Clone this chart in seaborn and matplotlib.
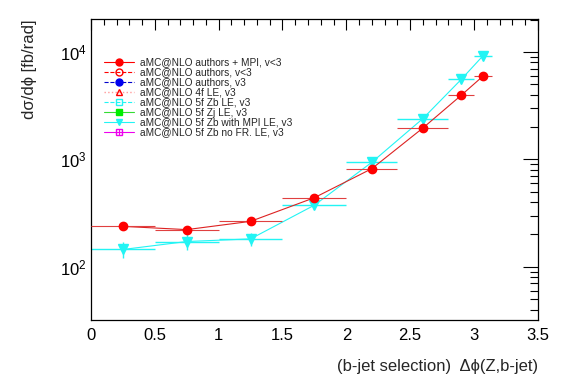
import numpy as np
import pandas as pd
import matplotlib
matplotlib.use("Agg")
import matplotlib.pyplot as plt
import seaborn as sns
from matplotlib.lines import Line2D
from matplotlib.ticker import LogLocator, MultipleLocator, NullFormatter

# ---- data ----
x_centers = [0.25, 0.75, 1.25, 1.75, 2.2, 2.6, 2.9, 3.07]
x_halfwidth = [0.25, 0.25, 0.25, 0.25, 0.2, 0.2, 0.1, 0.07]

mpi_v3_lt = [238, 222, 265, 440, 820, 1960, 3950, 5950]
mpi_v3_lt_err = [5, 5, 6, 9, 16, 35, 70, 100]

zb_mpi_v3 = [145, 172, 182, 375, 940, 2400, 5550, 9200]
zb_mpi_v3_err = [25, 28, 26, 30, 40, 80, 150, 250]

legend_labels = [
    "aMC@NLO authors + MPI, v<3",
    "aMC@NLO authors, v<3",
    "aMC@NLO authors, v3",
    "aMC@NLO 4f LE, v3",
    "aMC@NLO 5f Zb LE, v3",
    "aMC@NLO 5f Zj LE, v3",
    "aMC@NLO 5f Zb with MPI LE, v3",
    "aMC@NLO 5f Zb no FR. LE, v3",
]

sns.set_style("white")
plt.rcParams["font.family"] = ["Liberation Sans", "DejaVu Sans"]

fig = plt.figure(figsize=(5.67, 3.84), dpi=100)
ax = fig.add_axes([0.1605, 0.1667, 0.788, 0.784])

red = "#ff0000"
cyan = "#22f4f4"

df_red = pd.DataFrame({"x": x_centers, "y": mpi_v3_lt})
df_cyan = pd.DataFrame({"x": x_centers, "y": zb_mpi_v3})

sns.lineplot(data=df_red, x="x", y="y", ax=ax, color="#dd2222", lw=0.8, zorder=3)
sns.lineplot(data=df_cyan, x="x", y="y", ax=ax, color=cyan, lw=0.8, zorder=2)

ax.errorbar(x_centers, zb_mpi_v3, xerr=x_halfwidth, yerr=zb_mpi_v3_err, fmt="v",
            color=cyan, ms=6.5, elinewidth=1.0, capsize=0, zorder=2)
ax.errorbar(x_centers, mpi_v3_lt, xerr=x_halfwidth, yerr=mpi_v3_lt_err, fmt="o",
            color=red, ms=6, elinewidth=0.8, ecolor="#e04040", capsize=0, zorder=3)

ax.set_yscale("log")
ax.set_xlim(0, 3.5)
ax.set_ylim(32, 20300)

ax.xaxis.set_major_locator(MultipleLocator(0.5))
ax.xaxis.set_minor_locator(MultipleLocator(0.1))
ax.yaxis.set_major_locator(LogLocator(base=10, numticks=10))
ax.yaxis.set_minor_locator(LogLocator(base=10, subs=np.arange(2, 10), numticks=20))
ax.yaxis.set_minor_formatter(NullFormatter())
ax.set_xticks([0, 0.5, 1, 1.5, 2, 2.5, 3, 3.5])
ax.set_xticklabels(["0", "0.5", "1", "1.5", "2", "2.5", "3", "3.5"])

ax.tick_params(axis="both", which="both", direction="in", top=True, right=True,
               labelsize=12, colors="black", width=0.8)
ax.tick_params(axis="y", which="major", length=11, pad=3)
ax.tick_params(axis="y", which="minor", length=6)
ax.tick_params(axis="x", which="major", length=8, pad=6)
ax.tick_params(axis="x", which="minor", length=4)
for s in ax.spines.values():
    s.set_color("black")
    s.set_linewidth(0.9)

ax.set_xlabel("")
ax.set_ylabel("")
fig.text(0.949, 0.045, "(b-jet selection)  Δϕ(Z,b-jet)", ha="right", va="center", fontsize=12)
fig.text(0.052, 0.95, "dσ/dϕ [fb/rad]", ha="center", va="top", rotation=90, fontsize=12)

ms_l = 5
handles = [
    Line2D([], [], color=red, ls="-", lw=0.8, marker="o", ms=ms_l, mfc=red, mec=red),
    Line2D([], [], color=red, ls="--", lw=0.8, marker="o", ms=ms_l, mfc="none", mec=red),
    Line2D([], [], color="#0000cc", ls="--", lw=0.8, marker="o", ms=ms_l, mfc="#0000ee", mec="#0000ee"),
    Line2D([], [], color="#ff9999", ls=":", lw=1.0, marker="^", ms=ms_l, mfc="none", mec=red),
    Line2D([], [], color=cyan, ls="--", lw=0.8, marker="s", ms=ms_l, mfc="none", mec=cyan),
    Line2D([], [], color="#33dd33", ls="-", lw=0.8, marker="s", ms=ms_l, mfc="#00ee00", mec="#00ee00"),
    Line2D([], [], color=cyan, ls="-", lw=0.8, marker="v", ms=ms_l, mfc=cyan, mec=cyan),
    (Line2D([], [], color="#ee00ee", ls="-", lw=0.8, marker="s", ms=ms_l, mfc="none", mec="#ee00ee"),
     Line2D([], [], color="#ee00ee", ls="none", marker="+", ms=ms_l, mec="#ee00ee", mew=0.8)),
]
leg = ax.legend(handles, legend_labels, loc="upper left", bbox_to_anchor=(0.02, 0.885),
                frameon=False, fontsize=7.3, handlelength=3.0, handletextpad=0.6,
                labelspacing=0.0, borderaxespad=0, handleheight=0.5)

fig.savefig("out.png", dpi=100)
